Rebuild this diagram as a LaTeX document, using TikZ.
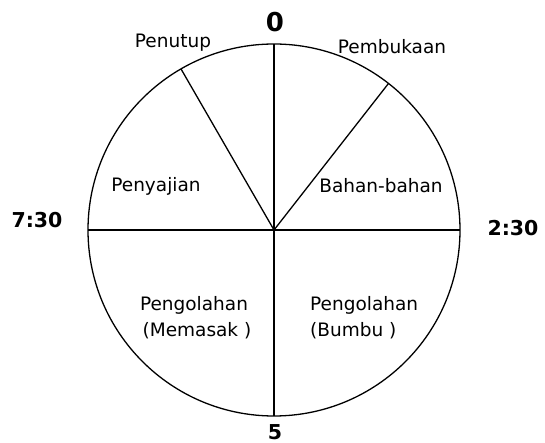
\documentclass[tikz,border=0pt]{standalone}
\usepackage{fontspec}
\setmainfont{DejaVu Sans}

\begin{document}
\begin{tikzpicture}[
    x=1pt, y=1pt,
    part/.style={font=\fontsize{18.5}{22}\selectfont, inner sep=0pt},
    tick/.style={font=\fontsize{20.5}{24}\selectfont\bfseries, inner sep=0pt},
    spoke/.style={line width=1.3pt, black}
]
    \useasboundingbox (-274,-213) rectangle (271,230);

    \coordinate (c) at (0,0);
    \draw[spoke] (c) circle (186);
    \coordinate (top) at (90:186);
    \coordinate (bot) at (270:186);
    \coordinate (left) at (180:186);
    \coordinate (right) at (0:186);
    \coordinate (open) at (52:186);
    \coordinate (close) at (120:186);

    \draw[spoke] (c) -- (top);
    \draw[spoke] (c) -- (bot);
    \draw[spoke] (left) -- (right);
    \draw[spoke] (c) -- (open);
    \draw[spoke] (c) -- (close);

    \node[tick, font=\fontsize{26}{30}\selectfont\bfseries] (zero) at (1,208) {0};
    \node[tick] (five) at (1,-202) {5};
    \node[tick] (q3) at (-237,10) {7:30};
    \node[tick] (q1) at (239,2) {2:30};

    \node[part] (penutup) at (-101,187) {Penutup};
    \node[part] (pembukaan) at (118,183) {Pembukaan};
    \node[part] (penyajian) at (-118,44) {Penyajian};
    \node[part] (bahan) at (107,44) {Bahan-bahan};
    \node[part, align=center] (masak) at (-80,-88) {Pengolahan\\[4pt]\ (Memasak )};
    \node[part, align=left, anchor=west] (bumbu) at (36,-88) {Pengolahan\\[4pt](Bumbu )};
\end{tikzpicture}
\end{document}
